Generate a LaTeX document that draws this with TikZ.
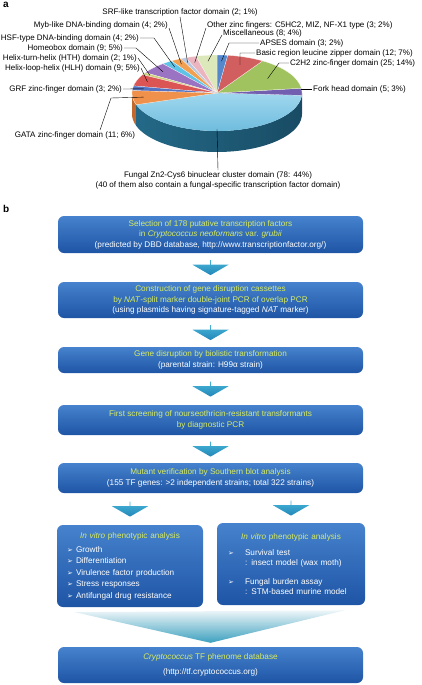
\documentclass[tikz,border=0pt]{standalone}
\usepackage{fontspec}
\setmainfont{Liberation Sans}
\newfontfamily\dejavu{DejaVu Sans}
\usepackage{xcolor}
\usepackage{tikz}
\usetikzlibrary{shapes,arrows,positioning,calc}

\definecolor{forkc}{RGB}{115,95,175}
\definecolor{forkd}{RGB}{75,60,125}
\definecolor{czhc}{RGB}{160,195,95}
\definecolor{bzipc}{RGB}{210,95,95}
\definecolor{apsesc}{RGB}{85,135,205}
\definecolor{miscc}{RGB}{220,232,185}
\definecolor{othc}{RGB}{235,180,190}
\definecolor{srfc}{RGB}{185,200,225}
\definecolor{mybc}{RGB}{240,160,80}
\definecolor{hsfc}{RGB}{95,195,230}
\definecolor{homeoc}{RGB}{155,115,195}
\definecolor{hthc}{RGB}{205,210,130}
\definecolor{hlhc}{RGB}{220,85,85}
\definecolor{grfc}{RGB}{85,115,195}
\definecolor{gatac}{RGB}{240,145,75}
\definecolor{gatad}{RGB}{195,105,45}
\definecolor{fungtop}{RGB}{160,215,238}
\definecolor{fungbot}{RGB}{105,185,220}
\definecolor{fungsl}{RGB}{35,105,135}
\definecolor{fungsm}{RGB}{60,150,180}
\definecolor{fungsr}{RGB}{25,75,100}
\definecolor{boxtop}{RGB}{70,130,205}
\definecolor{boxbot}{RGB}{30,85,165}
\definecolor{arrtop}{RGB}{70,180,215}
\definecolor{arrbot}{RGB}{35,135,185}
\definecolor{funtop}{RGB}{238,246,249}
\definecolor{funbot}{RGB}{60,160,190}
\definecolor{ttl}{RGB}{215,235,95}

\newcommand{\lblfont}{\fontsize{8}{10}\selectfont}
\newcommand{\boxfont}{\fontsize{8.2}{10.5}\selectfont}
\newcommand{\bul}{{\dejavu\fontsize{7}{7}\selectfont\char"27A2}}

\begin{document}
\begin{tikzpicture}[x=1pt, y=-1pt,
    lbl/.style={font=\lblfont, inner sep=1pt},
    lead/.style={draw=black, line width=0.4pt},
    flowbox/.style={rounded corners=6pt, top color=boxtop, bottom color=boxbot, text=white, align=center, font=\boxfont, minimum width=305pt, inner sep=0pt},
    flowarrow/.style={single arrow, shape border rotate=270, top color=arrtop, bottom color=arrbot, minimum height=15pt, minimum width=36pt, single arrow head extend=8pt, single arrow tip angle=120, inner sep=0pt},
    panel/.style={font=\bfseries\fontsize{10}{10}\selectfont, inner sep=0pt, anchor=north west}
]
\useasboundingbox (0,0) rectangle (421,685);

\node[panel] (pa) at (3,2) {a};
\node[panel] (pb) at (3,205) {b};

\begin{scope}[shift={(217,93)}, y=1pt]
    \fill[gatad] (180:85 and 38) arc[start angle=180, end angle=198, x radius=85, y radius=38] -- ++(0,-21) arc[start angle=198, end angle=180, x radius=85, y radius=38] -- cycle;
    \shade[left color=fungsl, middle color=fungsm, right color=fungsr] (198:85 and 38) arc[start angle=198, end angle=356.4, x radius=85, y radius=38] -- ++(0,-21) arc[start angle=356.4, end angle=198, x radius=85, y radius=38] -- cycle;
    \fill[forkd] (356.4:85 and 38) arc[start angle=356.4, end angle=360, x radius=85, y radius=38] -- ++(0,-21) arc[start angle=360, end angle=356.4, x radius=85, y radius=38] -- cycle;
    \shade[top color=fungtop, bottom color=fungbot] (0,0) -- (198:85 and 38) arc[start angle=198, end angle=356.4, x radius=85, y radius=38] -- cycle;
    \foreach \a/\b/\c in {-3.6/7.2/forkc, 7.2/57.6/czhc, 57.6/82.8/bzipc, 82.8/90/apsesc, 90/104.4/miscc, 104.4/111.6/othc, 111.6/115.2/srfc, 115.2/122.4/mybc, 122.4/129.6/hsfc, 129.6/147.6/homeoc, 147.6/151.2/hthc, 151.2/169.2/hlhc, 169.2/176.4/grfc, 176.4/198/gatac}
        \fill[\c, draw=white, line width=0.2pt] (0,0) -- (\a:85 and 38) arc[start angle=\a, end angle=\b, x radius=85, y radius=38] -- cycle;
    \coordinate (p-fork) at (1.8:84 and 38);
    \coordinate (p-czh) at (32.4:60 and 27);
    \coordinate (p-bzip) at (70.2:68 and 30);
    \coordinate (p-apses) at (86.4:72 and 32);
    \coordinate (p-misc) at (97.2:72 and 32);
    \coordinate (p-oth) at (108:72 and 32);
    \coordinate (p-srf) at (113.4:74 and 33);
    \coordinate (p-myb) at (118.8:74 and 33);
    \coordinate (p-hsf) at (126:72 and 32);
    \coordinate (p-homeo) at (138.6:72 and 32);
    \coordinate (p-hth) at (149.4:78 and 35);
    \coordinate (p-hlh) at (160.2:74 and 33);
    \coordinate (p-grf) at (172.8:74 and 33);
    \coordinate (p-gata) at (187.2:74 and 33);
    \coordinate (p-fung) at (270:10 and 36);
\end{scope}

\node[lbl] (srf) at (180,12) {SRF-like transcription factor domain (2; 1\%)};
\node[lbl, anchor=east] (myb) at (169,25) {Myb-like DNA-binding domain (4; 2\%)};
\node[lbl, anchor=east] (hsf) at (140,38) {HSF-type DNA-binding domain (4; 2\%)};
\node[lbl, anchor=east] (homeo) at (124,48) {Homeobox domain (9; 5\%)};
\node[lbl, anchor=east] (hth) at (138,58) {Helix-turn-helix (HTH) domain (2; 1\%)};
\node[lbl, anchor=east] (hlh) at (141,68) {Helix-loop-helix (HLH) domain (9; 5\%)};
\node[lbl, anchor=east] (grf) at (123,89) {GRF zinc-finger domain (3; 2\%)};
\node[lbl] (gata) at (75,135) {GATA zinc-finger domain (11; 6\%)};
\node[lbl, anchor=west] (oth) at (206,25) {Other zinc fingers: C5HC2, MIZ, NF-X1 type (3; 2\%)};
\node[lbl, anchor=west] (misc) at (222,33) {Miscellaneous (8; 4\%)};
\node[lbl, anchor=west] (apses) at (259,43) {APSES domain (3; 2\%)};
\node[lbl, anchor=west] (bzip) at (255,53) {Basic region leucine zipper domain (12; 7\%)};
\node[lbl, anchor=west] (czh) at (289,63) {C2H2 zinc-finger domain (25; 14\%)};
\node[lbl, anchor=west] (fork) at (312,89) {Fork head domain (5; 3\%)};
\node[lbl, align=center] (fung) at (218,180) {Fungal Zn2-Cys6 binuclear cluster domain (78: 44\%)\\(40 of them also contain a fungal-specific transcription factor domain)};
\coordinate (k-gata) at (111,98);

\draw[lead] (srf.south) -- (p-srf);
\draw[lead] ([yshift=-3pt]myb.east) -- (p-myb);
\draw[lead] (hsf.east) -- ++(14,0) -- (p-hsf);
\draw[lead] (homeo.east) -- ++(12,0) -- (p-homeo);
\draw[lead] (hth.east) -- (p-hth);
\draw[lead] (hlh.east) -- (p-hlh);
\draw[lead] (grf.east) -- (p-grf);
\draw[lead] ([xshift=25pt]gata.north) -- (k-gata) -- (p-gata);
\draw[lead] ([yshift=-3pt]oth.west) -- (p-oth);
\draw[lead] ([yshift=-2pt]misc.west) -- (p-misc);
\draw[lead] (apses.west) -- ++(-30,0) -- (p-apses);
\draw[lead] (bzip.west) -- ++(-15,0) -- (p-bzip);
\draw[lead] (czh.west) -- ++(-10,0) -- (p-czh);
\draw[lead] (fork.west) -- (fork.west -| p-fork);
\draw[lead] (p-fung) -- (fung.north);

\node[flowbox, minimum height=37pt] (sel) at (210.5,234.5) {\textcolor{ttl}{Selection of 178 putative transcription factors}\\\textcolor{ttl}{in \textit{Cryptococcus neoformans} var. \textit{grubii}}\\(predicted by DBD database, http://www.transcriptionfactor.org/)};
\node[flowbox, minimum height=36pt] (cas) at (210.5,300) {\textcolor{ttl}{Construction of gene disruption cassettes}\\\textcolor{ttl}{by \textit{NAT}-split marker double-joint PCR of overlap PCR}\\(using plasmids having signature-tagged \textit{NAT} marker)};
\node[flowbox, minimum height=26pt] (bio) at (210.5,360) {\textcolor{ttl}{Gene disruption by biolistic transformation}\\(parental strain: H99α strain)};
\node[flowbox, minimum height=30pt] (scr) at (210.5,420) {\textcolor{ttl}{First screening of nourseothricin-resistant transformants}\\\textcolor{ttl}{by diagnostic PCR}};
\node[flowbox, minimum height=30pt] (mut) at (210.5,478) {\textcolor{ttl}{Mutant verification by Southern blot analysis}\\(155 TF genes: >2 independent strains; total 322 strains)};
\node[flowbox, minimum width=146pt, minimum height=82pt, text width=126pt, align=left, font=\fontsize{8.2}{11.5}\selectfont] (vitl) at (130,566) {{\centering\textcolor{ttl}{\textit{In vitro} phenotypic analysis}\par}\vspace{2.5pt}
    \makebox[9pt][l]{\bul}Growth\par
    \makebox[9pt][l]{\bul}Differentiation\par
    \makebox[9pt][l]{\bul}Virulence factor production\par
    \makebox[9pt][l]{\bul}Stress responses\par
    \makebox[9pt][l]{\bul}Antifungal drug resistance};
\node[flowbox, minimum width=148pt, minimum height=82pt, text width=126pt, align=left, font=\fontsize{8.2}{10}\selectfont] (vitr) at (291,564) {{\centering\textcolor{ttl}{\textit{In vitro} phenotypic analysis}\par}\vspace{6pt}
    \makebox[17pt][l]{\bul}Survival test\par
    \hspace*{17pt}: insect model (wax moth)\par\vspace{9pt}
    \makebox[17pt][l]{\bul}Fungal burden assay\par
    \hspace*{17pt}: STM-based murine model};
\node[flowbox, minimum height=36pt] (db) at (210.5,665) {\textcolor{ttl}{\textit{Cryptococcus} TF phenome database}\\[5pt](http://tf.cryptococcus.org)};

\node[flowarrow] (a1) at ($(sel.south)!0.5!(cas.north)$) {};
\node[flowarrow] (a2) at ($(cas.south)!0.5!(bio.north)$) {};
\node[flowarrow] (a3) at ($(bio.south)!0.5!(scr.north)$) {};
\node[flowarrow] (a4) at ($(scr.south)!0.5!(mut.north)$) {};
\node[flowarrow] (a5l) at ($(mut.south -| vitl.north)!0.5!(vitl.north)$) {};
\node[flowarrow] (a5r) at ($(mut.south -| vitr.north)!0.5!(vitr.north)$) {};

\coordinate (f1) at ($(vitl.south west)+(18,5)$);
\coordinate (f2) at ($(vitr.south east)+(-20,5)$);
\coordinate (f3) at ($(db.north)+(0,-4)$);
\shade[top color=funtop, bottom color=funbot] (f1) -- (f2) -- (f3) -- cycle;
\end{tikzpicture}
\end{document}
